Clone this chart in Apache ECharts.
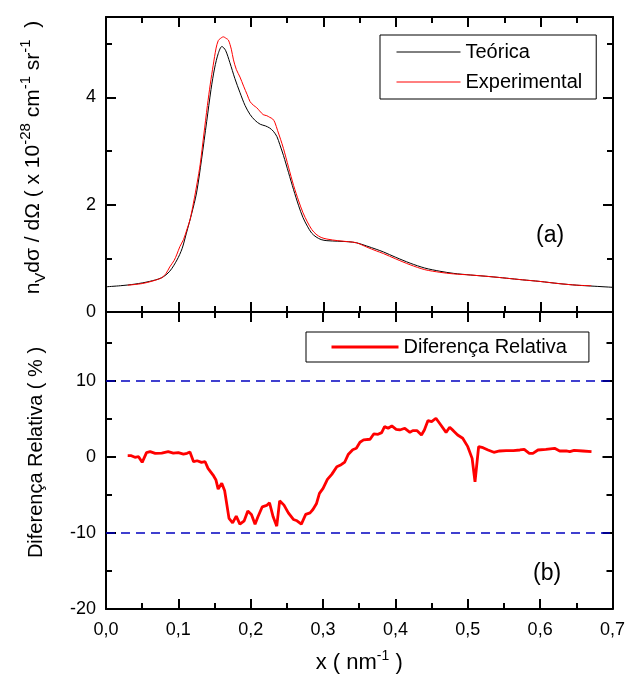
<!DOCTYPE html>
<html>
<head>
<meta charset="utf-8">
<script src="https://cdn.jsdelivr.net/npm/echarts@6/dist/echarts.min.js"></script>
<style>
html, body { margin: 0; padding: 0; background: #fff; }
#grafico { width: 628px; height: 684px; }
</style>
</head>
<body>
<div id="grafico"></div>
<script>
// curva teorica (painel a)
var xTeorica = [0.000, 0.020, 0.040, 0.060, 0.077, 0.088, 0.098, 0.105, 0.111, 0.118, 0.125, 0.132, 0.139, 0.145, 0.150, 0.155, 0.160, 0.165, 0.171, 0.178, 0.185, 0.192, 0.199, 0.206, 0.213, 0.220, 0.226, 0.231, 0.236, 0.240, 0.245, 0.252, 0.259, 0.266, 0.272, 0.278, 0.284, 0.290, 0.297, 0.305, 0.320, 0.335, 0.346, 0.360, 0.373, 0.383, 0.400, 0.420, 0.440, 0.461, 0.480, 0.503, 0.530, 0.553, 0.575, 0.599, 0.625, 0.650, 0.675, 0.700];
var yTeorica = [0.47, 0.49, 0.52, 0.57, 0.64, 0.76, 0.97, 1.18, 1.47, 1.82, 2.22, 2.85, 3.55, 4.15, 4.55, 4.82, 4.95, 4.88, 4.65, 4.35, 4.09, 3.85, 3.68, 3.57, 3.50, 3.47, 3.43, 3.37, 3.27, 3.12, 2.92, 2.60, 2.28, 1.98, 1.76, 1.60, 1.47, 1.40, 1.35, 1.33, 1.32, 1.31, 1.29, 1.23, 1.17, 1.12, 1.02, 0.91, 0.82, 0.76, 0.72, 0.69, 0.66, 0.63, 0.60, 0.57, 0.53, 0.50, 0.48, 0.46];

// curva experimental (painel a)
var xExperimental = [0.030, 0.050, 0.065, 0.077, 0.083, 0.088, 0.094, 0.098, 0.102, 0.107, 0.112, 0.116, 0.121, 0.126, 0.130, 0.135, 0.140, 0.144, 0.148, 0.152, 0.155, 0.158, 0.162, 0.166, 0.169, 0.173, 0.176, 0.180, 0.185, 0.190, 0.195, 0.199, 0.204, 0.208, 0.212, 0.217, 0.222, 0.226, 0.230, 0.233, 0.237, 0.241, 0.245, 0.252, 0.259, 0.266, 0.272, 0.278, 0.284, 0.290, 0.297, 0.305, 0.320, 0.335, 0.346, 0.360, 0.373, 0.383, 0.400, 0.420, 0.440, 0.461, 0.480, 0.503, 0.530, 0.553, 0.575, 0.599, 0.625, 0.650, 0.670];
var yExperimental = [0.50, 0.53, 0.58, 0.64, 0.72, 0.84, 0.96, 1.08, 1.22, 1.35, 1.55, 1.72, 2.05, 2.42, 2.75, 3.30, 3.85, 4.25, 4.60, 4.92, 5.06, 5.10, 5.13, 5.10, 5.07, 4.90, 4.70, 4.52, 4.38, 4.21, 4.05, 3.92, 3.85, 3.81, 3.75, 3.68, 3.66, 3.63, 3.60, 3.54, 3.38, 3.22, 3.05, 2.70, 2.36, 2.07, 1.85, 1.68, 1.54, 1.45, 1.39, 1.36, 1.33, 1.31, 1.29, 1.21, 1.14, 1.09, 0.99, 0.88, 0.79, 0.74, 0.71, 0.69, 0.66, 0.63, 0.60, 0.57, 0.53, 0.50, 0.49];

// diferenca relativa (painel b)
var xDiferenca = [0.030, 0.035, 0.040, 0.045, 0.050, 0.056, 0.061, 0.068, 0.077, 0.086, 0.093, 0.100, 0.107, 0.112, 0.116, 0.121, 0.126, 0.132, 0.137, 0.141, 0.148, 0.152, 0.155, 0.160, 0.164, 0.170, 0.175, 0.180, 0.185, 0.191, 0.196, 0.201, 0.206, 0.210, 0.216, 0.222, 0.226, 0.231, 0.236, 0.240, 0.246, 0.252, 0.259, 0.264, 0.270, 0.276, 0.282, 0.286, 0.291, 0.295, 0.300, 0.306, 0.312, 0.319, 0.325, 0.330, 0.335, 0.341, 0.346, 0.351, 0.356, 0.365, 0.370, 0.376, 0.381, 0.385, 0.390, 0.395, 0.401, 0.406, 0.413, 0.420, 0.424, 0.430, 0.436, 0.440, 0.445, 0.450, 0.456, 0.461, 0.470, 0.475, 0.480, 0.486, 0.493, 0.500, 0.506, 0.510, 0.515, 0.521, 0.528, 0.536, 0.544, 0.553, 0.563, 0.572, 0.578, 0.585, 0.590, 0.597, 0.608, 0.620, 0.627, 0.636, 0.641, 0.647, 0.659, 0.671];
var yDiferenca = [0.13, 0.13, -0.08, 0.00, -0.74, 0.53, 0.66, 0.44, 0.48, 0.66, 0.48, 0.53, 0.35, 0.44, 0.61, -0.66, -0.53, -0.74, -0.66, -1.53, -2.41, -3.07, -4.25, -3.50, -4.47, -8.10, -8.68, -7.80, -8.86, -8.42, -7.14, -7.58, -8.86, -7.89, -6.58, -6.40, -6.05, -7.89, -9.12, -5.79, -6.36, -7.37, -8.24, -8.42, -8.86, -7.58, -7.37, -6.93, -6.14, -4.82, -4.16, -2.98, -2.32, -1.31, -1.05, -0.70, 0.33, 0.92, 1.10, 1.90, 2.20, 2.29, 2.99, 2.94, 3.16, 3.95, 3.73, 4.04, 3.60, 3.51, 3.73, 3.20, 3.42, 3.42, 2.85, 3.51, 4.74, 4.60, 5.05, 4.39, 3.20, 3.86, 3.42, 2.85, 2.42, 1.32, -0.22, -3.29, 1.32, 1.18, 0.88, 0.58, 0.75, 0.80, 0.80, 0.88, 0.97, 0.44, 0.44, 0.88, 0.97, 1.10, 0.75, 0.75, 0.66, 0.84, 0.75, 0.66];

// limites de +-10 %
var limites = [10, -10];

var fonte = "'Liberation Sans', Arial, sans-serif";

function junta(xs, ys) {
	var pares = [];
	for (var i = 0; i < xs.length; i++) {
		pares.push([xs[i], ys[i]]);
	}
	return pares;
}

function virgula(v) {
	return v.toFixed(1).replace('.', ',');
}

// eixo com ticks para dentro, usado nos quatro lados de cada painel
function eixo(grade, lado, min, max, intervalo, rotulos) {
	return {
		type: 'value',
		gridIndex: grade,
		position: lado,
		min: min,
		max: max,
		interval: intervalo,
		axisLine: { show: true, onZero: false, lineStyle: { color: '#000', width: 2 } },
		axisTick: { show: true, inside: true, length: 10, lineStyle: { color: '#000', width: 2 } },
		minorTick: { show: true, splitNumber: 2, length: 6, lineStyle: { color: '#000', width: 2 } },
		splitLine: { show: false },
		axisLabel: {
			show: rotulos,
			showMaxLabel: false,
			color: '#000',
			fontSize: 18,
			fontFamily: fonte,
			margin: 10
		}
	};
}

var xA = eixo(0, 'bottom', 0, 0.7, 0.1, false);
var xATopo = eixo(0, 'top', 0, 0.7, 0.1, false);
var xB = eixo(1, 'bottom', 0, 0.7, 0.1, true);
xB.axisLabel.showMaxLabel = true;
xB.axisLabel.margin = 12;
xB.axisLabel.formatter = virgula;
xB.name = '{t|x ( nm}{sup|-1}{t| )}';
xB.nameLocation = 'middle';
xB.nameGap = 40;
xB.nameTextStyle = {
	fontFamily: fonte,
	rich: {
		t: { fontSize: 22, fontFamily: fonte, color: '#000', lineHeight: 28 },
		sup: { fontSize: 14, fontFamily: fonte, color: '#000', verticalAlign: 'top', lineHeight: 16 }
	}
};
var xBTopo = eixo(1, 'top', 0, 0.7, 0.1, false);

var yA = eixo(0, 'left', 0, 5.5, 2, true);
yA.name = '{t|n}{sub|V}{t|dσ / dΩ ( x 10}{sup|-28}{t| cm}{sup|-1}{t| sr}{sup|-1}{t|  )}';
yA.nameLocation = 'middle';
yA.nameRotate = 90;
yA.nameGap = 58;
yA.nameTextStyle = {
	fontFamily: fonte,
	padding: [0, 0, 0, 14],
	rich: {
		t: { fontSize: 21, fontFamily: fonte, color: '#000', lineHeight: 30 },
		sup: { fontSize: 15, fontFamily: fonte, color: '#000', verticalAlign: 'top', lineHeight: 14 },
		sub: { fontSize: 15, fontFamily: fonte, color: '#000', verticalAlign: 'bottom', lineHeight: 16 }
	}
};
var yADireita = eixo(0, 'right', 0, 5.5, 2, false);

var yB = eixo(1, 'left', -20, 19, 10, true);
yB.name = 'Diferença Relativa ( % )';
yB.nameLocation = 'middle';
yB.nameRotate = 90;
yB.nameGap = 60;
yB.nameTextStyle = { fontSize: 20, fontFamily: fonte, color: '#000', padding: [0, 0, 0, 16] };
var yBDireita = eixo(1, 'right', -20, 19, 10, false);

var grafico = echarts.init(document.getElementById('grafico'));

var opcao = {
	backgroundColor: '#fff',
	animation: false,
	textStyle: { fontFamily: fonte },
	grid: [
		{ left: 106, top: 17, width: 507, height: 295 },
		{ left: 106, top: 312, width: 507, height: 297 }
	],
	xAxis: [xA, xATopo, xB, xBTopo],
	yAxis: [yA, yADireita, yB, yBDireita],
	legend: [
		{
			data: ['Teórica', 'Experimental'],
			orient: 'vertical',
			left: 380,
			top: 35,
			itemWidth: 64,
			itemHeight: 12,
			itemGap: 10,
			itemTextGap: 7,
			padding: [7, 14, 7, 16],
			borderColor: '#000',
			borderWidth: 1,
			borderRadius: 0,
			selectedMode: false,
			itemStyle: { opacity: 0 },
			lineStyle: { width: 1 },
			textStyle: { fontSize: 20, color: '#000', fontFamily: fonte }
		},
		{
			data: ['Diferença Relativa'],
			left: 306,
			top: 332,
			itemWidth: 67,
			itemHeight: 12,
			itemTextGap: 6,
			padding: [5, 22, 5, 24],
			borderColor: '#000',
			borderWidth: 1,
			borderRadius: 0,
			selectedMode: false,
			itemStyle: { opacity: 0 },
			lineStyle: { width: 3 },
			textStyle: { fontSize: 20, color: '#000', fontFamily: fonte }
		}
	],
	graphic: [
		{ type: 'text', left: 536, top: 224, style: { text: '(a)', fontSize: 23, fontFamily: fonte, fill: '#000' } },
		{ type: 'text', left: 533, top: 562, style: { text: '(b)', fontSize: 23, fontFamily: fonte, fill: '#000' } }
	],
	series: [
		{
			name: 'Teórica',
			type: 'line',
			xAxisIndex: 0,
			yAxisIndex: 0,
			symbol: 'none',
			smooth: 0.3,
			lineStyle: { color: '#000', width: 1 },
			itemStyle: { color: '#000' },
			data: junta(xTeorica, yTeorica)
		},
		{
			name: 'Experimental',
			type: 'line',
			xAxisIndex: 0,
			yAxisIndex: 0,
			symbol: 'none',
			smooth: 0.3,
			lineStyle: { color: '#ff0000', width: 1 },
			itemStyle: { color: '#ff0000' },
			data: junta(xExperimental, yExperimental)
		},
		{
			name: 'Diferença Relativa',
			type: 'line',
			xAxisIndex: 2,
			yAxisIndex: 2,
			symbol: 'none',
			lineStyle: { color: '#ff0000', width: 2.8 },
			itemStyle: { color: '#ff0000' },
			markLine: {
				silent: true,
				symbol: 'none',
				label: { show: false },
				lineStyle: { color: '#0000c0', width: 1.5, type: [9, 6] },
				data: limites.map(function (v) { return { yAxis: v }; })
			},
			data: junta(xDiferenca, yDiferenca)
		}
	]
};

grafico.setOption(opcao);
</script>
</body>
</html>
